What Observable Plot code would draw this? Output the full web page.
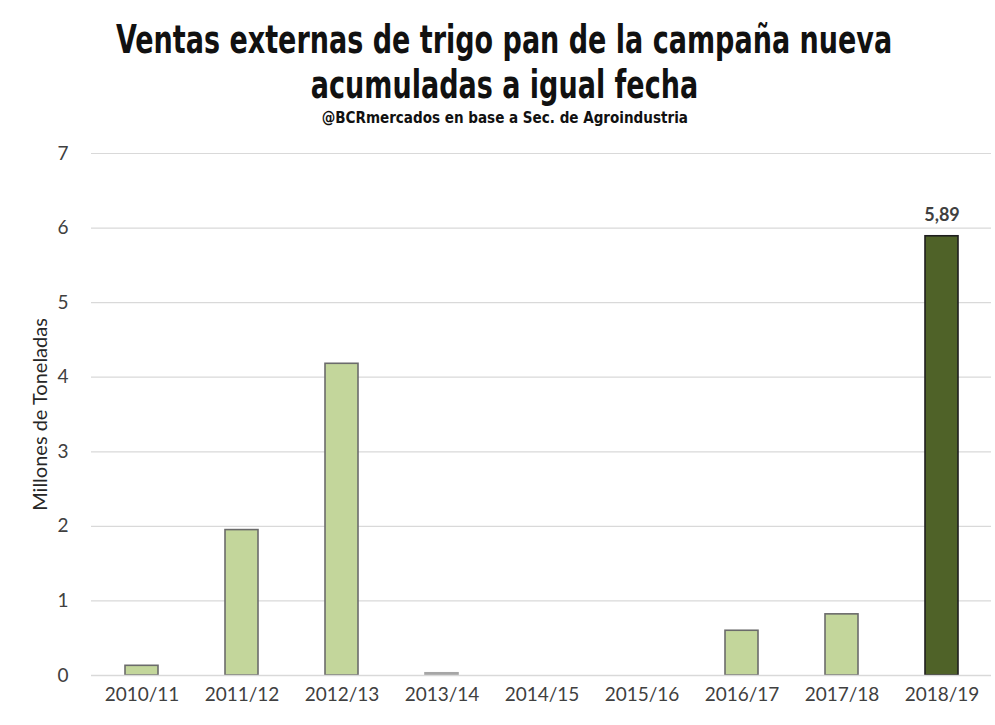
<!DOCTYPE html>
<html><head><meta charset="utf-8">
<script src="https://cdn.jsdelivr.net/npm/d3@7"></script>
<script src="https://cdn.jsdelivr.net/npm/@observablehq/plot@0.6"></script>
<style>
body{margin:0;background:#fff;width:995px;height:725px;overflow:hidden}
.hd{display:flex;flex-direction:column;align-items:center;padding-left:14px;font-family:"DejaVu Sans Condensed","DejaVu Sans",sans-serif;font-weight:bold;color:#111}
#title{font-size:39px;line-height:45px;padding-top:17px}
#title span{display:block;transform:scaleX(0.77);white-space:nowrap}
#sub{font-size:16px;line-height:18px;margin-top:2px;height:28px}
#sub span{display:block;transform:scaleX(0.94);white-space:nowrap}
</style></head><body>
<div id="title" class="hd"><span>Ventas externas de trigo pan de la campaña nueva</span><span>acumuladas a igual fecha</span></div>
<div id="sub" class="hd"><span>@BCRmercados en base a Sec. de Agroindustria</span></div>
<div id="chart"></div>
<script>
const campaigns = ["2010/11","2011/12","2012/13","2013/14","2014/15","2015/16","2016/17","2017/18","2018/19"];
const sales = [0.13, 1.95, 4.18, 0.03, 0, 0, 0.60, 0.82, 5.89];
const yTicks = [0,1,2,3,4,5,6,7];
const highlight = "2018/19";
const labelText = "5,89";
const yLabel = "Millones de Toneladas";

const data = campaigns.map((c,i)=>({campaign:c, value:sales[i], hi:c===highlight}));

const chart = Plot.plot({
  width: 995,
  height: 588,
  marginTop: 16,
  marginBottom: 50,
  marginLeft: 91,
  marginRight: 4,
  style: {fontFamily: "Lato, 'Open Sans', sans-serif", fontSize: "19px", color: "#404040", background: "#fff"},
  x: {domain: campaigns, paddingInner: 0.67, paddingOuter: 0.335, label: null, tickSize: 0, tickPadding: 12},
  y: {domain: [0,7], ticks: yTicks, tickFormat: "d", label: null, tickSize: 0, tickPadding: 23},
  marks: [
    Plot.gridY(yTicks, {stroke: "#d9d9d9", strokeOpacity: 1, strokeWidth: 1.2}),
    Plot.barY(data, {x: "campaign", y: "value",
      fill: d => d.hi ? "#4f6228" : (d.value < 0.05 ? "#a6a6a6" : "#c3d69b"),
      stroke: d => d.hi ? "#1e1e1e" : (d.value < 0.05 ? "#a6a6a6" : "#6b6b6b"),
      strokeWidth: 1.6, filter: d => d.value > 0}),
    Plot.ruleY([0], {stroke: "#d9d9d9", strokeWidth: 1.5}),
    Plot.text(data.filter(d => d.hi), {x: "campaign", y: "value", text: () => labelText, dy: -21, fontWeight: "bold", fontSize: 18, fill: "#404040"}),
    Plot.text([yLabel], {frameAnchor: "left", textAnchor: "middle", rotate: -90, dx: -51, fontSize: 20, fill: "#262626", text: d => d})
  ]
});
document.getElementById("chart").appendChild(chart);
</script>
</body></html>
